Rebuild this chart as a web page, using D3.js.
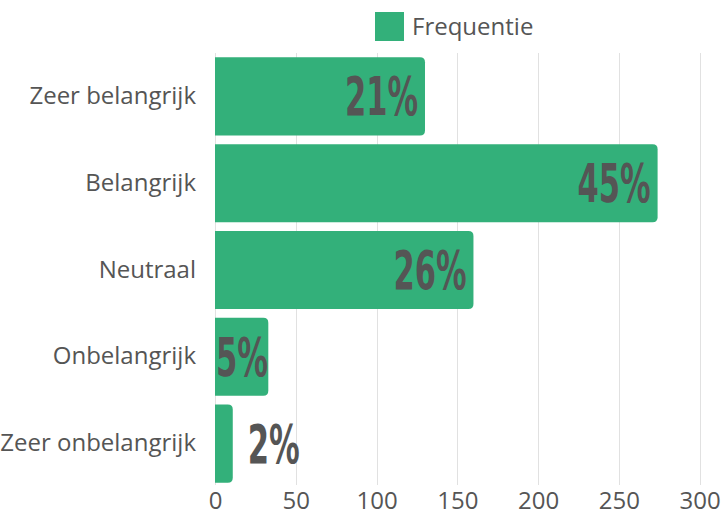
<!DOCTYPE html>
<html>
<head>
<meta charset="utf-8">
<script src="https://cdn.jsdelivr.net/npm/d3@7"></script>
<style>
  html, body { margin: 0; padding: 0; background: #fff; }
  svg { display: block; }
</style>
</head>
<body>
<svg id="chart" width="721" height="515"></svg>
<script>
const categories = ["Zeer belangrijk", "Belangrijk", "Neutraal", "Onbelangrijk", "Zeer onbelangrijk"];
const frequencies = [130, 274, 160, 33, 11];
const xTicks = [0, 50, 100, 150, 200, 250, 300];
const seriesName = "Frequentie";

const W = 721, H = 515;
const margin = { left: 215, right: 21.4, top: 53, bottom: 28 };
const green = "#33b07a";
const textColor = "#555555";
const font = "'Open Sans', sans-serif";

const svg = d3.select("#chart");

const x = d3.scaleLinear().domain([0, 300]).range([margin.left, W - margin.right]);
const y = d3.scaleBand().domain(categories).range([margin.top, H - margin.bottom]).paddingInner(0.1).paddingOuter(0.05);

// gridlines
svg.append("g").selectAll("line").data(xTicks).join("line")
  .attr("x1", d => Math.round(x(d)) + 0.5).attr("x2", d => Math.round(x(d)) + 0.5)
  .attr("y1", margin.top).attr("y2", H - margin.bottom - 2)
  .attr("stroke", "#e1e1e1").attr("stroke-width", 1);

// x axis tick labels
const xAxis = d3.axisBottom(x).tickValues(xTicks).tickSize(0).tickPadding(0);
const gx = svg.append("g").attr("transform", `translate(0, ${H - margin.bottom})`).call(xAxis);
gx.select(".domain").remove();
gx.selectAll("text").attr("font-family", font).attr("font-size", 24).attr("fill", textColor)
  .attr("dy", null).attr("y", 22);

// y axis labels
const yAxis = d3.axisLeft(y).tickSize(0).tickPadding(19);
const gy = svg.append("g").attr("transform", `translate(${margin.left}, 0)`).call(yAxis);
gy.select(".domain").remove();
gy.selectAll("text").attr("font-family", font).attr("font-size", 24).attr("fill", textColor);

// bars with rounded right corners
const r = 5;
function barPath(v, cat) {
  const x0 = x(0), x1 = x(v), y0 = y(cat), h = y.bandwidth();
  const rr = Math.min(r, (x1 - x0) / 2, h / 2);
  return `M${x0},${y0} H${x1 - rr} Q${x1},${y0} ${x1},${y0 + rr} V${y0 + h - rr} Q${x1},${y0 + h} ${x1 - rr},${y0 + h} H${x0} Z`;
}
const data = categories.map((c, i) => ({ cat: c, v: frequencies[i] }));
svg.append("g").selectAll("path").data(data).join("path")
  .attr("d", d => barPath(d.v, d.cat))
  .attr("fill", green);

// percentage labels
const total = d3.sum(frequencies);
const labelFont = "'Liberation Sans Narrow', 'DejaVu Sans Condensed', 'Liberation Sans', sans-serif";
svg.append("g").selectAll("text").data(data).join("text")
  .each(function(d) {
    const txt = Math.round(d.v / total * 100) + "%";
    const nDigits = txt.length - 1;
    const w = 21 * nDigits + 31;
    const bw = x(d.v) - x(0);
    let left;
    if (w + 1 <= bw) {
      left = Math.max(x(d.v) - 7 - w, x(0) + 1);
    } else {
      left = x(d.v) + 15;
    }
    d3.select(this)
      .text(txt)
      .attr("x", left)
      .attr("y", y(d.cat) + y.bandwidth() / 2 + 19)
      .attr("textLength", w)
      .attr("lengthAdjust", "spacingAndGlyphs")
      .attr("font-family", labelFont)
      .attr("font-weight", "bold")
      .attr("font-size", 53)
      .attr("fill", textColor);
  });

// legend
const lg = svg.append("g");
lg.append("rect").attr("x", 375).attr("y", 12).attr("width", 29).attr("height", 29).attr("fill", green);
lg.append("text").attr("x", 412).attr("y", 34.5).text(seriesName)
  .attr("font-family", font).attr("font-size", 24).attr("fill", textColor);
</script>
</body>
</html>
